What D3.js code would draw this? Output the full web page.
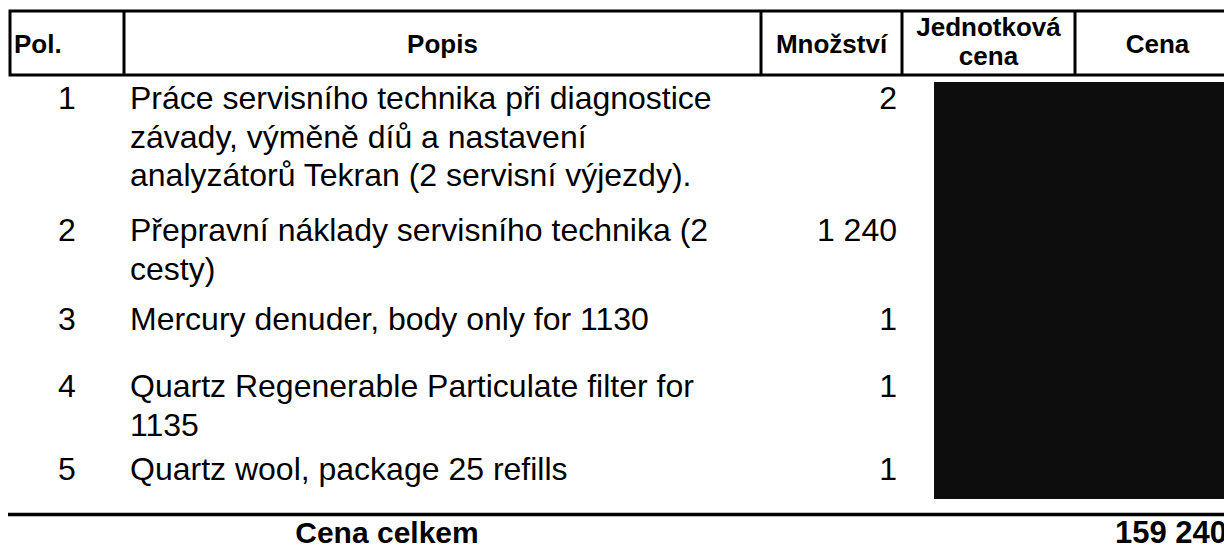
<!DOCTYPE html>
<html>
<head>
<meta charset="utf-8">
<script src="https://cdn.jsdelivr.net/npm/d3@7"></script>
<style>
  body { margin: 0; background: #fff; }
  svg { display: block; font-family: Arial, "Liberation Sans", sans-serif; }
</style>
</head>
<body>
<div id="chart"></div>
<script>
/*
  Invoice table
*/

var headers = ["Pol.", "Popis", "Množství", ["Jednotková", "cena"], "Cena"],
    positions = [1, 2, 3, 4, 5],
    descriptions = [
      ["Práce servisního technika při diagnostice", "závady, výměně díů a nastavení", "analyzátorů Tekran (2 servisní výjezdy)."],
      ["Přepravní náklady servisního technika (2", "cesty)"],
      ["Mercury denuder, body only for 1130"],
      ["Quartz Regenerable Particulate filter for", "1135"],
      ["Quartz wool, package 25 refills"]
    ],
    quantities = ["2", "1 240", "1", "1", "1"],
    totalLabel = "Cena celkem",
    totalValue = "159 240";

var width = 1224,
    height = 550,
    colEdges = [10, 124, 761, 902, 1075, 1240],
    headTop = 11,
    headBottom = 75,
    rowHeights = [132, 89, 67, 83, 46],
    bodyTop = 82,
    bodyBottom = 499,
    lineH = 38.5;

var svg = d3.select("#chart").append("svg")
  .attr("width", width)
  .attr("height", height);

// column scale: index -> left edge
var col = d3.scaleOrdinal().domain(d3.range(colEdges.length)).range(colEdges);
function colMid(i){ return (col(i) + col(i + 1)) / 2; }

// row scale: cumulative height -> pixel
var rowStarts = [0];
rowHeights.forEach(function(h, i){ rowStarts.push(rowStarts[i] + h); });
var y = d3.scaleLinear().domain([0, d3.sum(rowHeights)]).range([bodyTop, bodyBottom]);

// redacted price columns
svg.append("rect")
  .attr("x", 934)
  .attr("y", y(0))
  .attr("width", width - 934)
  .attr("height", y(d3.sum(rowHeights)) - y(0))
  .style("fill", "#0d0d0d");

// header box
var head = svg.append("g");
head.append("rect")
  .attr("x", col(0))
  .attr("y", headTop)
  .attr("width", col(5) - col(0))
  .attr("height", headBottom - headTop)
  .style("fill", "none")
  .style("stroke", "#000")
  .style("stroke-width", 3);

head.selectAll(".sep")
  .data(d3.range(1, 5))
  .enter().append("line")
    .attr("class", "sep")
    .attr("x1", function(i){ return col(i); })
    .attr("x2", function(i){ return col(i); })
    .attr("y1", headTop)
    .attr("y2", headBottom)
    .style("stroke", "#000")
    .style("stroke-width", 3);

head.selectAll(".htext")
  .data(headers)
  .enter().append("text")
    .attr("class", "htext")
    .attr("x", function(d, i){ return i == 0 ? col(0) + 4 : colMid(i); })
    .style("text-anchor", function(d, i){ return i == 0 ? "start" : "middle"; })
    .style("font-weight", "bold")
    .style("font-size", "26px")
    .each(function(d){
      var t = d3.select(this);
      if (Array.isArray(d)) {
        d.forEach(function(line, k){
          t.append("tspan").attr("x", t.attr("x")).attr("y", 36 + k * 29).text(line);
        });
      } else {
        t.attr("y", 53).text(d);
      }
    });

// body rows
var rows = svg.selectAll(".row")
  .data(positions)
  .enter().append("g")
    .attr("class", "row")
    .attr("transform", function(d, i){ return "translate(0," + (y(rowStarts[i]) + 27) + ")"; });

rows.append("text")
  .attr("x", colMid(0))
  .style("text-anchor", "middle")
  .style("font-size", "32px")
  .text(function(d){ return d; });

rows.append("text")
  .attr("x", col(1) + 6)
  .style("font-size", "32px")
  .each(function(d, i){
    var t = d3.select(this);
    descriptions[i].forEach(function(line, k){
      t.append("tspan").attr("x", col(1) + 6).attr("y", k * lineH).text(line);
    });
  });

rows.append("text")
  .attr("x", 897)
  .style("text-anchor", "end")
  .style("font-size", "32px")
  .text(function(d, i){ return quantities[i]; });

// total
svg.append("line")
  .attr("x1", 8)
  .attr("x2", width)
  .attr("y1", 514.5)
  .attr("y2", 514.5)
  .style("stroke", "#000")
  .style("stroke-width", 3.5);

svg.append("text")
  .attr("x", 387)
  .attr("y", 543)
  .style("text-anchor", "middle")
  .style("font-weight", "bold")
  .style("font-size", "30px")
  .text(totalLabel);

svg.append("text")
  .attr("x", 1115)
  .attr("y", 543)
  .style("font-weight", "bold")
  .style("font-size", "31px")
  .text(totalValue);
</script>
</body>
</html>
